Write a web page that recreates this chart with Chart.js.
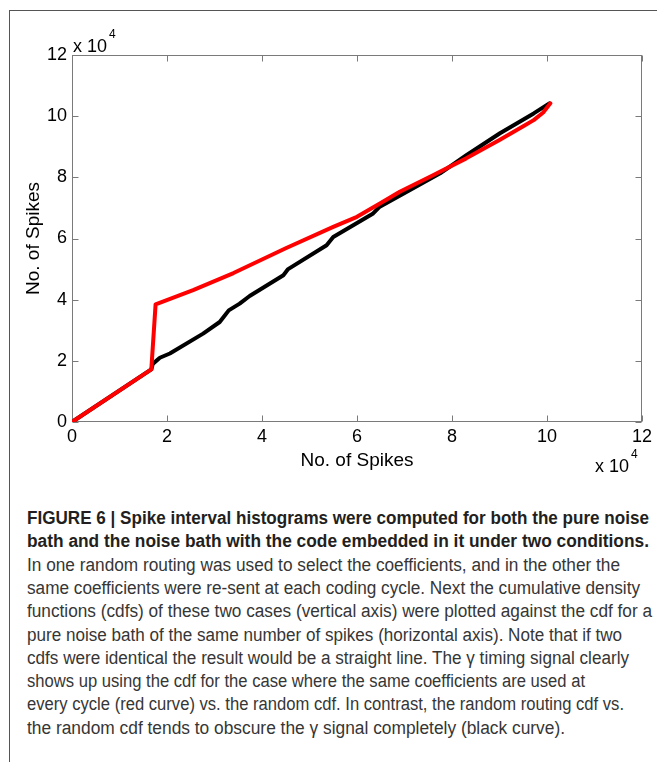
<!DOCTYPE html>
<html><head><meta charset="utf-8">
<script src="https://cdn.jsdelivr.net/npm/chart.js@4"></script>
<style>
html,body{margin:0;padding:0;background:#fff;width:657px;height:762px;overflow:hidden;}
#frame{position:absolute;left:9px;top:10px;width:700px;height:800px;border-left:1px solid #555;border-top:1px solid #555;}
#wrap{position:absolute;left:0;top:0;width:657px;height:490px;}
.cap{position:absolute;left:27px;white-space:nowrap;font-family:"Liberation Sans",Arial,sans-serif;font-size:18px;line-height:23px;color:#363636;transform-origin:0 50%;}
.b{font-weight:bold;color:#231f20;}
</style></head><body>
<div id="frame"></div>
<div id="wrap"><canvas id="c" width="657" height="490"></canvas></div>
<div id="caption"></div>
<script>
// Same coefficients re-sent each cycle (red curve)
const redX = [0, 16700, 17600, 25500, 34000, 45000, 55000, 60000, 65000, 69000, 76000, 83000, 90000, 95000, 97200, 99200, 100700];
const redY = [0, 17200, 38500, 43100, 48700, 56800, 63800, 67100, 71600, 75300, 80700, 86200, 92200, 96700, 98700, 101200, 104200];
// Random routing (black curve)
const blackX = [0, 16700, 17000, 18500, 20600, 27600, 31100, 32000, 33000, 35300, 37400, 44500, 45500, 53600, 55000, 63400, 64800, 70500, 77500, 83100, 90100, 97200, 100500];
const blackY = [0, 17200, 19000, 21000, 22400, 28900, 32700, 34500, 36500, 38700, 41200, 48000, 50000, 57800, 60500, 68200, 70400, 75300, 81300, 87300, 94400, 100900, 104200];
const axisMin = 0, axisMax = 120000, tickStep = 20000, tickScale = 10000;
const axisTitle = 'No. of Spikes';
const multiplier = 'x 10', multiplierExp = '4';

const captionLines = [
  'FIGURE 6 | Spike interval histograms were computed for both the pure noise',
  'bath and the noise bath with the code embedded in it under two conditions.',
  'In one random routing was used to select the coefficients, and in the other the',
  'same coefficients were re-sent at each coding cycle. Next the cumulative density',
  'functions (cdfs) of these two cases (vertical axis) were plotted against the cdf for a',
  'pure noise bath of the same number of spikes (horizontal axis). Note that if two',
  'cdfs were identical the result would be a straight line. The \u03b3 timing signal clearly',
  'shows up using the cdf for the case where the same coefficients are used at',
  'every cycle (red curve) vs. the random cdf. In contrast, the random routing cdf vs.',
  'the random cdf tends to obscure the \u03b3 signal completely (black curve).'
];
const captionEnds = [649, 649, 620, 640, 652, 622, 629, 585, 624, 565];

const FONT = '"Liberation Sans", Arial, sans-serif';

const boxPlugin = {
  id: 'box',
  beforeDatasetsDraw(chart) {
    const {ctx, chartArea: a, scales: {x, y}} = chart;
    ctx.save();
    ctx.strokeStyle = '#7a7a7a';
    ctx.lineWidth = 1;
    const L = Math.round(a.left) + 0.5, R = Math.round(a.right) - 0.5;
    const T = Math.round(a.top) + 0.5, B = Math.round(a.bottom) - 0.5;
    ctx.strokeRect(L, T, R - L, B - T);
    ctx.beginPath();
    x.ticks.forEach(t => {
      const p = Math.round(x.getPixelForValue(t.value)) + 0.5;
      ctx.moveTo(p, B); ctx.lineTo(p, B - 6);
      ctx.moveTo(p, T); ctx.lineTo(p, T + 6);
    });
    y.ticks.forEach(t => {
      const p = Math.round(y.getPixelForValue(t.value)) + 0.5;
      ctx.moveTo(L, p); ctx.lineTo(L + 6, p);
      ctx.moveTo(R, p); ctx.lineTo(R - 6, p);
    });
    ctx.stroke();
    ctx.restore();
  },
  afterDraw(chart) {
    const {ctx, chartArea: a} = chart;
    ctx.save();
    ctx.fillStyle = '#000';
    ctx.textBaseline = 'alphabetic';
    ctx.textAlign = 'left';
    ctx.font = '18px ' + FONT;
    ctx.fillText(multiplier, a.left + 1, a.top - 3);
    let w = ctx.measureText(multiplier).width;
    ctx.font = '12px ' + FONT;
    ctx.fillText(multiplierExp, a.left + 1 + w + 2, a.top - 17);
    ctx.font = '18px ' + FONT;
    ctx.fillText(multiplier, 595, 472);
    ctx.font = '12px ' + FONT;
    ctx.fillText(multiplierExp, 595 + w + 2, 458);
    ctx.restore();
  }
};

const lineStyle = {showLine: true, pointRadius: 0, borderWidth: 4, fill: false, tension: 0,
  borderJoinStyle: 'round', borderCapStyle: 'round'};

new Chart(document.getElementById('c'), {
  type: 'scatter',
  data: {
    datasets: [
      Object.assign({label: 'same coefficients', borderColor: '#ff0000',
        data: redX.map((v, i) => ({x: v, y: redY[i]}))}, lineStyle),
      Object.assign({label: 'random routing', borderColor: '#000000',
        data: blackX.map((v, i) => ({x: v, y: blackY[i]}))}, lineStyle)
    ]
  },
  options: {
    responsive: false, animation: false, devicePixelRatio: 1,
    layout: {padding: {top: 55, right: 15, left: 0, bottom: 0}},
    plugins: {legend: {display: false}, tooltip: {enabled: false}},
    scales: {
      x: {
        type: 'linear', min: axisMin, max: axisMax,
        ticks: {stepSize: tickStep, callback: v => v / tickScale, color: '#000',
          font: {family: FONT, size: 18}, padding: 4, maxRotation: 0, autoSkip: false},
        grid: {display: false, drawTicks: false}, border: {display: false},
        title: {display: true, text: axisTitle, color: '#000', font: {family: FONT, size: 19},
          padding: {top: 0, bottom: 18}},
        afterFit(s) { s.height = 68; }
      },
      y: {
        type: 'linear', min: axisMin, max: axisMax,
        ticks: {stepSize: tickStep, callback: v => v / tickScale, color: '#000',
          font: {family: FONT, size: 18}, padding: 5, autoSkip: false},
        grid: {display: false, drawTicks: false}, border: {display: false},
        title: {display: true, text: axisTitle, color: '#000', font: {family: FONT, size: 19},
          padding: {top: 22, bottom: 0}},
        afterFit(s) { s.width = 72; }
      }
    }
  },
  plugins: [boxPlugin]
});

const cap = document.getElementById('caption');
captionLines.forEach((t, i) => {
  const d = document.createElement('div');
  d.className = 'cap' + (i < 2 ? ' b' : '');
  d.textContent = t;
  d.style.top = (507 + i * 23.3) + 'px';
  cap.appendChild(d);
  const w = d.getBoundingClientRect().width;
  d.style.transform = 'scaleX(' + ((captionEnds[i] - 27) / w) + ')';
});
</script>
</body></html>
